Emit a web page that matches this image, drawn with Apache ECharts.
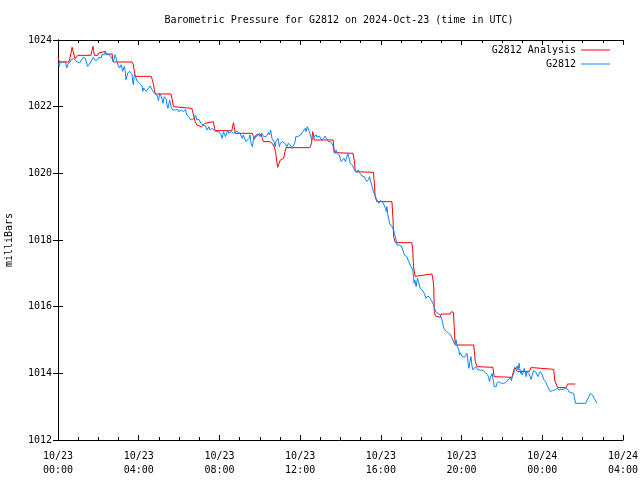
<!DOCTYPE html>
<html>
<head>
<meta charset="utf-8">
<script src="https://cdn.jsdelivr.net/npm/echarts@6/dist/echarts.min.js"></script>
<style>html,body{margin:0;padding:0;background:#fff}#c{width:640px;height:480px}</style>
</head>
<body>
<div id="c"></div>
<script>
// minutes since 2024-10-23 00:00 UTC
const blueTime = [0,2,4,6,9,14,19,22,26,29,32,36,39,42,46,49,54,59,64,66,68,71,75,78,81,83,88,91,93,96,101,105,108,111,113,118,121,125,128,131,135,138,141,143,148,153,158,161,163,168,170,173,175,178,181,183,185,188,192,195,197,200,202,205,207,210,214,217,220,222,224,227,230,232,235,238,242,247,250,252,255,258,262,265,
274,277,280,284,287,291,294,296,299,302,304,307,310,312,316,319,322,324,327,330,332,334,336,338,341,343,346,349,353,356,359,363,366,369,373,376,379,381,383,386,389,393,396,399,403,406,409,413,416,419,423,425,428,431,433,436,439,443,446,449,452,455,458,462,465,468,472,475,478,482,485,488,492,495,498,502,505,508,512,515,518,522,525,528,532,535,538,542,545,548,551,554,
556,559,564,568,571,574,578,581,584,588,591,594,598,601,604,606,609,612,616,619,622,626,629,632,634,636,639,642,644,646,648,651,654,656,658,661,665,668,671,673,675,678,681,685,688,691,695,698,701,705,707,710,713,715,718,721,725,728,731,735,738,741,745,748,750,753,755,758,761,763,765,768,770,774,777,780,784,787,790,794,797,800,804,807,810,814,817,820,822,824,827,830,834,837,
839,842,845,847,850,853,855,857,859,862,865,867,869,872,875,879,882,885,887,889,892,895,898,901,904,908,911,914,918,921,924,926,928,930,933,936,938,941,944,946,948,951,954,956,958,961,964,968,971,974,976,978,980,983,986,988,990,993,996,998,1000,1003,1005,1008,1011,1014,1018,1021,1024,1027,1030,1033,1037,1040,1043,1045,1047,1050,1052,1055,1057,1059,1061,1063,1065,1067,1069,1072,1075,1077,1080,1083,1085,1087,1089,1092,1094,1097,1100,1103,1107,
1110,1112,1115,1117,1120,1123,1127,1130,1133,1137,1139,1142,1144,1146,1149,1152,1156,1159,1162,1166,1168,1171,1174,1176,1179,1182,1184,1186,1189,1192,1194,1196,1199,1202,1206,1209,1212,1214,1216,1218,1220,1222,1224,1226,1228,1231,1234,1236,1239,1242,1246,1249,1252,1256,1259,1261,1265,1268,1271,1275,1278,1281,1283,1285,1288,1291,1293,1295,1297,1300,1303,1305,1308,1311,1315,1318,1321,1325,1328,1331,1335,1338,1341,1345,
1348,1351,1355,1357,1360,1363,1365,1368,1371,1373,1375,1377,1380,1384,1386,1389,1392,1394,1397,1400,1404,1407,1410,1414,1417,1420,1424,1427,1430,1434,1437,1440,1444,1447,1450,1454,1457,1460,1464,1467,1470,1474,1477,1480,1484,1487,1490,1494,1497,1499,1503,1506,1509,1513,1516,1519,1523,1526,1529,1533,1535,1537,1539,1569,1573,1576,1579,1583,1586,1589,1593,1596,1599,1603];
const blueValue = [1023.31,1023.26,1023.21,1023.34,1023.31,1023.34,1023.31,1023.36,1023.16,1023.26,1023.31,1023.34,1023.41,1023.36,1023.44,1023.41,1023.36,1023.34,1023.31,1023.26,1023.36,1023.41,1023.48,1023.51,1023.46,1023.41,1023.21,1023.23,1023.26,1023.31,1023.41,1023.48,1023.46,1023.38,1023.36,1023.41,1023.48,1023.51,1023.46,1023.56,1023.61,1023.56,1023.66,1023.56,1023.51,1023.56,1023.51,1023.44,1023.36,1023.46,1023.56,1023.61,1023.51,1023.26,1023.31,1023.16,1023.11,1023.26,1023.06,1023.11,1023.21,1023.06,1022.81,1022.91,1023.01,1022.96,1023.06,1023.11,1022.96,1022.76,1022.66,1022.96,1022.91,1022.86,1022.76,1022.76,1022.71,1022.66,1022.61,1022.46,1022.56,1022.51,1022.46,1022.46,
1022.62,1022.58,1022.50,1022.45,1022.40,1022.40,1022.35,1022.28,1022.18,1022.40,1022.43,1022.30,1022.22,1022.10,1022.30,1022.35,1022.22,1022.05,1021.95,1022.10,1022.20,1022.12,1022.00,1021.95,1021.90,1021.85,1021.92,1021.90,1021.85,1021.92,1021.85,1021.80,1021.90,1021.92,1021.85,1021.80,1021.92,1021.90,1021.75,1021.80,1021.70,1021.62,1021.65,1021.60,1021.62,1021.68,1021.75,1021.60,1021.55,1021.62,1021.60,1021.50,1021.55,1021.45,1021.40,1021.48,1021.42,1021.30,1021.25,1021.40,1021.30,1021.25,1021.35,1021.30,1021.28,1021.25,1021.25,1021.30,1021.25,1021.22,1021.15,1021.05,1021.25,1021.18,1021.10,1021.15,1021.30,1021.20,1021.15,1021.25,1021.30,1021.20,1021.22,1021.25,1021.20,1021.25,1021.22,1021.18,1021.15,1021.05,1021.15,1021.20,
1021.10,1020.95,1020.90,1021.05,1021.15,1020.90,1020.80,1021.00,1021.10,1021.05,1021.10,1021.15,1021.20,1021.10,1021.15,1021.20,1021.15,1021.10,1021.05,1021.10,1021.15,1021.22,1021.15,1021.30,1021.20,1021.05,1021.00,1020.95,1020.90,1020.80,1020.95,1020.90,1021.05,1020.95,1020.80,1020.90,1020.85,1020.95,1021.00,1020.95,1020.90,1020.95,1020.80,1020.90,1020.95,1020.85,1020.75,1020.80,1020.85,1020.95,1021.10,1021.15,1021.10,1021.12,1021.05,1021.15,1021.20,1021.25,1021.30,1021.35,1021.25,1021.40,1021.45,1021.25,1021.15,1021.10,1021.00,1021.05,1021.10,1021.05,1021.10,1021.15,1021.08,1021.05,1021.12,1021.10,1021.00,1021.05,1021.05,1021.12,1021.10,1021.02,1020.95,1021.00,1020.95,1020.98,1020.85,1020.70,1020.60,1020.65,1020.70,1020.60,1020.62,1020.55,
1020.45,1020.35,1020.40,1020.30,1020.45,1020.50,1020.35,1020.42,1020.50,1020.58,1020.55,1020.40,1020.30,1020.35,1020.25,1020.20,1020.10,1020.05,1020.10,1020.02,1020.10,1020.08,1020.00,1019.95,1019.92,1019.95,1019.90,1019.82,1019.75,1019.80,1019.82,1019.90,1019.85,1019.75,1019.65,1019.60,1019.45,1019.40,1019.30,1019.25,1019.20,1019.15,1019.10,1019.15,1019.18,1019.20,1019.15,1019.08,1019.05,1018.95,1018.85,1019.00,1018.80,1018.65,1018.50,1018.45,1018.52,1018.40,1018.35,1018.30,1018.20,1018.10,1018.00,1017.85,1017.90,1017.85,1017.80,1017.82,1017.85,1017.65,1017.55,1017.50,1017.50,1017.45,1017.35,1017.30,1017.25,1017.20,1017.22,1017.10,1016.90,1016.70,1016.80,1016.75,1016.60,1016.75,1016.85,1016.75,1016.70,1016.55,1016.60,1016.50,1016.45,1016.50,1016.40,1016.35,1016.25,1016.30,1016.32,1016.32,1016.25,
1016.18,1016.15,1016.10,1016.05,1015.95,1015.85,1015.82,1015.80,1015.78,1015.75,1015.68,1015.60,1015.50,1015.40,1015.32,1015.30,1015.25,1015.22,1015.20,1015.18,1015.15,1015.10,1015.00,1014.95,1014.88,1014.90,1015.00,1014.85,1014.80,1014.70,1014.55,1014.62,1014.60,1014.50,1014.45,1014.48,1014.42,1014.50,1014.60,1014.45,1014.25,1014.15,1014.30,1014.40,1014.50,1014.22,1014.10,1014.15,1014.12,1014.20,1014.15,1014.10,1014.12,1014.10,1014.10,1014.12,1014.08,1014.05,1014.02,1014.00,1013.95,1013.85,1013.75,1013.85,1013.92,1014.00,1013.85,1013.75,1013.60,1013.55,1013.60,1013.70,1013.70,1013.75,1013.72,1013.70,1013.75,1013.70,1013.70,1013.72,1013.75,1013.80,1013.85,1013.88,
1013.78,1013.90,1014.00,1014.08,1014.05,1014.15,1014.22,1014.10,1014.30,1014.15,1014.00,1014.08,1013.95,1014.05,1014.15,1014.05,1013.90,1014.05,1014.10,1014.00,1013.90,1013.82,1013.95,1014.08,1014.10,1014.05,1014.00,1013.90,1013.98,1014.05,1014.10,1013.95,1013.82,1013.80,1013.75,1013.65,1013.60,1013.52,1013.45,1013.40,1013.48,1013.42,1013.50,1013.52,1013.55,1013.52,1013.50,1013.45,1013.52,1013.55,1013.52,1013.58,1013.55,1013.60,1013.52,1013.45,1013.48,1013.42,1013.40,1013.40,1013.30,1013.20,1013.10,1013.10,1013.20,1013.25,1013.30,1013.40,1013.42,1013.35,1013.30,1013.22,1013.18,1013.10];

const redTime = [0,2,4,32,36,42,46,51,59,98,101,104,106,108,118,121,123,141,143,161,163,165,220,224,227,230,277,282,287,289,336,340,343,348,398,403,408,413,427,437,442,462,467,517,520,522,524,527,578,581,584,589,604,608,610,630,633,637,643,647,650,653,657,661,671,675,678,749,754,757,760,762,818,822,877,881,884,889,938,941,943,948,993,996,998,1003,1052,1055,1057,1062,1069,1073,1112,1115,1117,1119,1122,1127,1137,1139,1166,1170,1176,1178,1181,1236,1239,1241,1246,1251,1293,1297,1350,1355,1358,1361,1365,1402,1406,1412,1417,1474,1477,1482,1486,1511,1515,1538];
const redValue = [1023.48,1023.48,1023.34,1023.34,1023.48,1023.78,1023.61,1023.44,1023.54,1023.54,1023.68,1023.81,1023.68,1023.54,1023.54,1023.61,1023.66,1023.66,1023.58,1023.58,1023.41,1023.34,1023.34,1023.26,1023.06,1022.91,1022.91,1022.76,1022.51,1022.38,1022.38,1022.20,1022.00,1021.95,1021.95,1021.75,1021.55,1021.45,1021.40,1021.50,1021.55,1021.55,1021.28,1021.28,1021.45,1021.52,1021.40,1021.20,1021.20,1021.10,1021.02,1021.15,1021.17,1021.05,1020.95,1020.95,1020.98,1020.90,1020.80,1020.65,1020.40,1020.18,1020.18,1020.40,1020.45,1020.65,1020.77,1020.77,1020.90,1021.25,1021.15,1021.00,1021.00,1020.62,1020.60,1020.40,1020.05,1020.03,1020.03,1019.65,1019.30,1019.15,1019.15,1018.65,1018.10,1017.92,1017.92,1017.70,1017.20,1016.90,1016.92,1016.98,1016.98,1016.80,1016.65,1015.85,1015.72,1015.68,1015.68,1015.78,1015.78,1015.85,1015.82,1015.40,1014.85,1014.85,1014.55,1014.35,1014.20,1014.18,1014.18,1013.90,1013.88,1014.08,1014.18,1014.12,1014.06,1014.06,1014.17,1014.17,1014.12,1014.12,1013.80,1013.65,1013.57,1013.57,1013.68,1013.68];

const xTickLabels = ['10/23\n00:00','10/23\n04:00','10/23\n08:00','10/23\n12:00','10/23\n16:00','10/23\n20:00','10/24\n00:00','10/24\n04:00'];
const yTicks = [1012,1014,1016,1018,1020,1022,1024];
const titleText = 'Barometric Pressure for G2812 on 2024-Oct-23 (time in UTC)';
const FONT = 'DejaVu Sans Mono';

const zip = (a, b) => a.map((t, i) => [t, b[i]]);
const chart = echarts.init(document.getElementById('c'), null, {renderer: 'canvas'});
const axisCommonX = {
  type: 'value', min: 0, max: 1680, interval: 240,
  axisLine: {lineStyle: {color: '#000', width: 1}},
  axisTick: {inside: true, length: 5, lineStyle: {color: '#000'}},
  minorTick: {show: true, splitNumber: 4, length: 3, lineStyle: {color: '#000'}},
  splitLine: {show: false}
};
const axisCommonY = {
  type: 'value', min: yTicks[0], max: yTicks[yTicks.length - 1], interval: 2,
  axisLine: {show: true, lineStyle: {color: '#000', width: 1}},
  axisTick: {show: true, inside: true, length: 5, lineStyle: {color: '#000'}},
  splitLine: {show: false}
};
const legendCommon = {
  right: 30, align: 'right', orient: 'vertical', icon: 'rect',
  itemWidth: 29, itemHeight: 1, selectedMode: false, padding: 0,
  textStyle: {fontFamily: FONT, fontSize: 10, color: '#000'}
};
chart.setOption({
  animation: false,
  backgroundColor: '#fff',
  title: {text: titleText, left: 334, textAlign: 'center', top: 10,
    textStyle: {fontFamily: FONT, fontSize: 10, fontWeight: 'normal', color: '#000'}},
  legend: [
    Object.assign({data: ['G2812 Analysis'], top: 45}, legendCommon),
    Object.assign({data: ['G2812'], top: 59}, legendCommon)
  ],
  grid: {left: 58, right: 17, top: 40, bottom: 40, containLabel: false, outerBoundsMode: 'none'},
  xAxis: [
    Object.assign({position: 'bottom', axisLabel: {
      fontFamily: FONT, fontSize: 10, color: '#000', lineHeight: 14, margin: 9,
      formatter: v => xTickLabels[Math.round(v / 240)] || ''}}, axisCommonX),
    Object.assign({position: 'top', axisLabel: {show: false}}, axisCommonX)
  ],
  yAxis: [
    Object.assign({position: 'left', name: 'milliBars', nameLocation: 'middle', nameRotate: 90, nameGap: 44,
      nameTextStyle: {fontFamily: FONT, fontSize: 10, color: '#000'},
      axisLabel: {fontFamily: FONT, fontSize: 10, color: '#000', margin: 6, formatter: v => String(v)}}, axisCommonY),
    Object.assign({position: 'right', axisLabel: {show: false}}, axisCommonY)
  ],
  series: [
    {name: 'G2812 Analysis', type: 'line', data: zip(redTime, redValue), showSymbol: false,
      color: '#ff0000', lineStyle: {width: 1, color: '#ff0000'}, xAxisIndex: 0, yAxisIndex: 0},
    {name: 'G2812', type: 'line', data: zip(blueTime, blueValue), showSymbol: false,
      color: '#0a84ff', lineStyle: {width: 1, color: '#0a84ff'}, xAxisIndex: 0, yAxisIndex: 0}
  ]
});
</script>
</body>
</html>
